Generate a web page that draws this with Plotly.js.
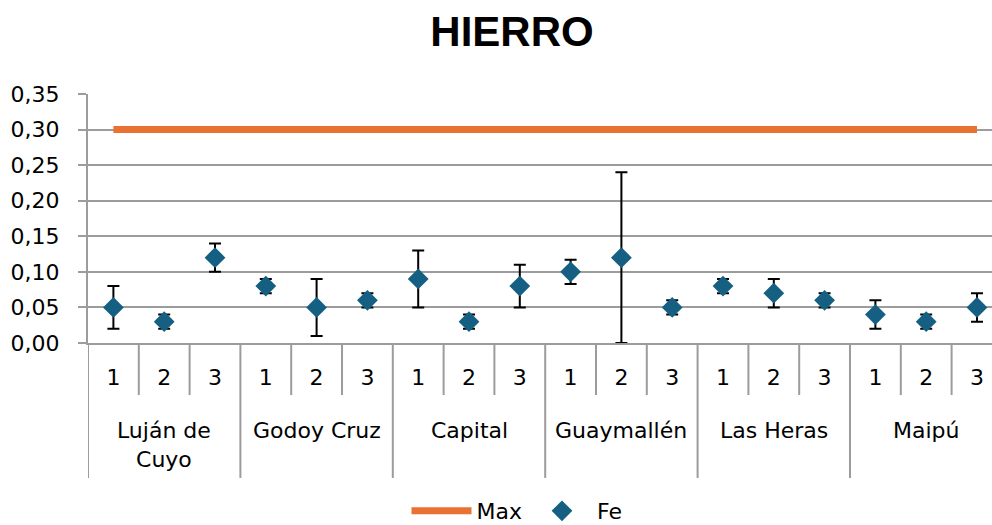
<!DOCTYPE html>
<html>
<head>
<meta charset="utf-8">
<script src="https://cdn.plot.ly/plotly-3.0.1.min.js"></script>
<style>html,body{margin:0;padding:0;background:#fff;}#chart{width:992px;height:525px;}</style>
</head>
<body>
<div id="chart"></div>
<script>
// ---- data ----
var groups = ["Luján de<br>Cuyo", "Godoy Cruz", "Capital", "Guaymallén", "Las Heras", "Maipú"];
var subs = ["1", "2", "3"];
var feVals = [0.05, 0.03, 0.12, 0.08, 0.05, 0.06, 0.09, 0.03, 0.08, 0.10, 0.12, 0.05, 0.08, 0.07, 0.06, 0.04, 0.03, 0.05];
var feErr  = [0.03, 0.01, 0.02, 0.01, 0.04, 0.01, 0.04, 0.01, 0.03, 0.017, 0.12, 0.01, 0.01, 0.02, 0.01, 0.02, 0.01, 0.02];
var maxVals = [0.30, 0.30, 0.30, 0.30, 0.30, 0.30, 0.30, 0.30, 0.30, 0.30, 0.30, 0.30, 0.30, 0.30, 0.30, 0.30, 0.30, 0.30];
var yTicks = [0, 0.05, 0.10, 0.15, 0.20, 0.25, 0.30, 0.35];

// ---- build ----
var idx = [], tickText = [];
groups.forEach(function (g, gi) {
  subs.forEach(function (s, si) { idx.push(gi * subs.length + si); tickText.push(s); });
});

var FONT = "DejaVu Sans";
var GRID = "#9c9c9c";

var traces = [
  { x: idx, y: maxVals, type: "scatter", mode: "lines", name: "Max",
    line: { color: "#E97132", width: 7 }, hoverinfo: "skip" },
  { x: idx, y: feVals, type: "scatter", mode: "markers", name: "Fe",
    marker: { symbol: "diamond", size: 16, color: "#156082" },
    error_y: { type: "data", array: feErr, visible: true, color: "#000", thickness: 2, width: 6 } }
];

var shapes = [];
for (var b = 0; b <= idx.length; b++) {
  var isGroup = (b % subs.length === 0);
  shapes.push({ type: "line", xref: "x", yref: "paper", x0: b - 0.5, x1: b - 0.5,
    y0: 0, y1: isGroup ? -0.542 : -0.209, line: { color: GRID, width: 2 }, layer: "above" });
}

var annotations = groups.map(function (g, gi) {
  return { text: g, xref: "x", yref: "paper", x: gi * subs.length + (subs.length - 1) / 2,
    y: -0.295, yanchor: "top", xanchor: "center", showarrow: false,
    font: { family: FONT, size: 22, color: "#000" } };
});

var layout = {
  width: 992, height: 525,
  margin: { l: 88, r: 0, t: 94, b: 182 },
  paper_bgcolor: "#fff", plot_bgcolor: "#fff",
  separators: ",.",
  font: { family: FONT, size: 22, color: "#000" },
  title: { text: "HIERRO", xref: "container", x: 512 / 992, xanchor: "center",
    yref: "container", y: 1 - 31 / 525, yanchor: "middle", automargin: false,
    font: { family: "Liberation Sans", size: 42, weight: "bold", color: "#000" } },
  xaxis: { range: [-0.5, -0.5 + 904 / 50.8], tickmode: "array", tickvals: idx, ticktext: tickText,
    showgrid: false, zeroline: false, showline: true, linecolor: GRID, linewidth: 2,
    ticks: "", tickfont: { family: FONT, size: 22, color: "#000" }, ticklabelstandoff: 14, fixedrange: true },
  yaxis: { range: [0, 0.35], tickmode: "array", tickvals: yTicks, tickformat: ".2f",
    showgrid: true, gridcolor: GRID, gridwidth: 2, zeroline: false,
    showline: true, linecolor: GRID, linewidth: 2,
    ticks: "outside", ticklen: 8, tickwidth: 2, tickcolor: GRID, ticklabelstandoff: 14,
    tickfont: { family: FONT, size: 22, color: "#000" }, fixedrange: true },
  showlegend: true,
  legend: { orientation: "h", xref: "container", yref: "container",
    x: 517 / 992, xanchor: "center", y: 1 - 511 / 525, yanchor: "middle",
    font: { family: FONT, size: 22, color: "#000" }, itemwidth: 60, traceorder: "normal" },
  shapes: shapes,
  annotations: annotations
};

Plotly.newPlot("chart", traces, layout, { displayModeBar: false, staticPlot: true });
</script>
</body>
</html>
